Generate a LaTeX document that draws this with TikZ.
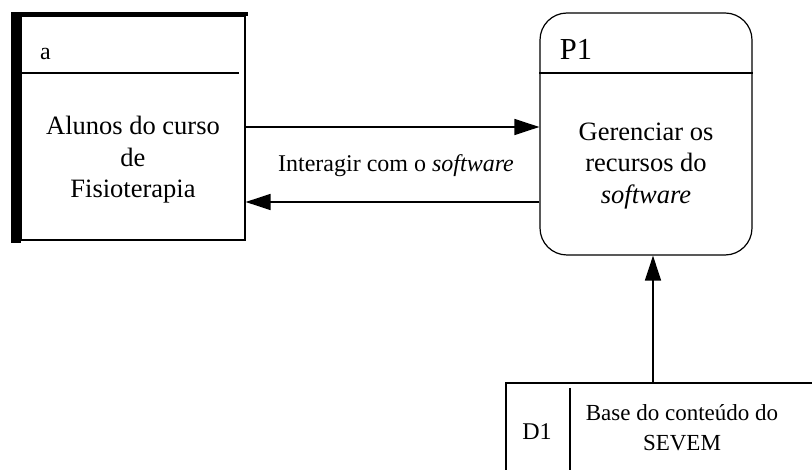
\documentclass[tikz,border=0pt]{standalone}
\usepackage{fontspec}
\setmainfont{Liberation Serif}
\usetikzlibrary{arrows.meta}
\begin{document}
\begin{tikzpicture}[x=1pt,y=-1pt,
  box/.style={draw, line width=1.2pt, inner sep=0pt},
  rule/.style={line width=1.2pt},
  flow/.style={line width=1.5pt, -{Triangle[length=25pt,width=16pt]}},
  body/.style={font=\fontsize{26.5}{31.5}\selectfont, align=center, inner sep=0pt},
  tag/.style={font=\fontsize{24}{28}\selectfont, anchor=base, inner sep=0pt},
]
\useasboundingbox (0,0) rectangle (812,470);

% external entity: students
\node[box, minimum width=224pt, minimum height=224pt] (ent) at (133,128) {};
\fill (11,12) rectangle (21,243);
\fill (11,12) rectangle (248,16);
\draw[rule] (21,73) -- (239,73);
\node[tag] (enttag) at (45.5,60) {a};
\node[body] (enttext) at (133,160) {Alunos do curso\\de\\Fisioterapia};

% process P1
\node[box, rounded corners=27pt, minimum width=212pt, minimum height=242pt] (proc) at (646,134) {};
\coordinate (pdiv) at (0,73);
\draw[rule] (pdiv -| proc.west) -- (pdiv -| proc.east);
\node[tag, font=\fontsize{30.5}{32}\selectfont] (ptag) at (576,60) {P1};
\node[body] (ptext) at (646,166) {Gerenciar os\\recursos do\\\textit{software}};

% data store D1
\coordinate (storetop) at (653,383);
\draw[rule] (812,383) -- (506,383) -- (506,470);
\draw[rule] (570,388) -- (570,470);
\node[tag] (dtag) at (537,440) {D1};
\node[body, font=\fontsize{23}{30}\selectfont] (dtext) at (682,428) {Base do conteúdo do\\SEVEM};

% data flows
\coordinate (f1) at ([yshift=1pt]ent.east);
\coordinate (f2) at ([yshift=-74pt]ent.east);
\draw[flow] (f1) -- (f1 -| proc.west);
\draw[flow] (f2 -| proc.west) -- (f2);
\node[tag] (flabel) at (396,172) {Interagir com o \textit{software}};
\draw[flow] (storetop) -- (storetop |- proc.south);
\end{tikzpicture}
\end{document}
